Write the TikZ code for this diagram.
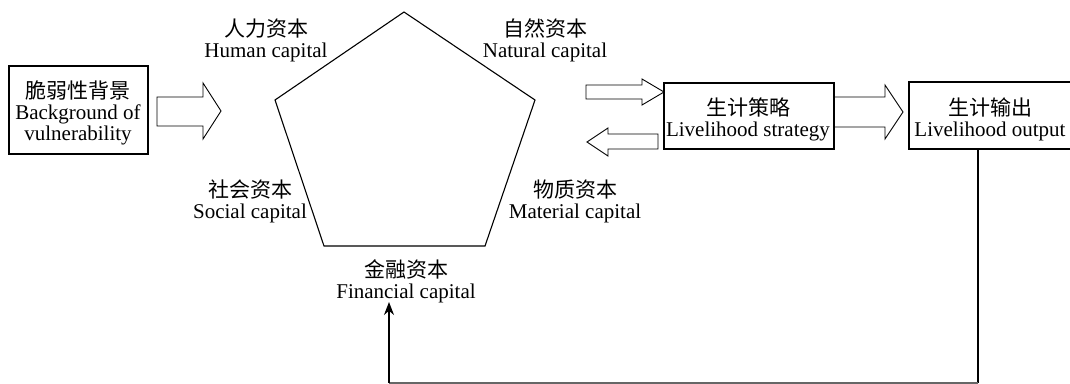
\documentclass[tikz,border=0pt]{standalone}
\usepackage{fontspec}
\setmainfont{Liberation Serif}
\newfontfamily\cjk{Noto Sans CJK SC}
\usetikzlibrary{arrows.meta}
\setlength{\lineskiplimit}{-30pt}
\setlength{\lineskip}{0pt}
\begin{document}
\begin{tikzpicture}[x=1pt,y=-1pt,
  lbl/.style={inner sep=0pt, align=center, font=\fontsize{21}{21}\selectfont},
  boxline/.style={draw, line width=1.1pt},
  blockarrow/.style={draw, line width=0.9pt, line join=miter},
  conn/.style={draw, line width=1.3pt}]
\useasboundingbox (0,0) rectangle (1070,383);
\clip (0,0) rectangle (1070,383);
% pentagon
\coordinate (pT) at (404,12);
\coordinate (pL) at (275,100);
\coordinate (pR) at (535,100);
\coordinate (pBL) at (324,246);
\coordinate (pBR) at (485,246);
\draw[line width=1.1pt, line join=miter] (pT) -- (pR) -- (pBR) -- (pBL) -- (pL) -- cycle;
% labels
\node[lbl] (human) at (266,40) {{\cjk 人力资本}\\Human capital};
\node[lbl] (natural) at (545,40) {{\cjk 自然资本}\\Natural capital};
\node[lbl] (social) at (250,201) {{\cjk 社会资本}\\Social capital};
\node[lbl] (material) at (575,201) {{\cjk 物质资本}\\Material capital};
\node[lbl] (financial) at (406,281) {{\cjk 金融资本}\\Financial capital};
% boxes
\draw[boxline] (9,66) rectangle (148,154);
\node[lbl] (vuln) at (78,113) {{\cjk 脆弱性背景}\\Background of\\vulnerability};
\draw[boxline] (664,83) rectangle (834,149);
\node[lbl] (strat) at (748,119) {{\cjk 生计策略}\\Livelihood strategy};
\draw[boxline] (909,82) rectangle (1080,149);
\node[lbl] (output) at (990,119) {{\cjk 生计输出}\\Livelihood output};
% block arrows
\draw[blockarrow] (157,97) -- (203,97) -- (203,83) -- (221,111) -- (203,139) -- (203,126) -- (157,126) -- cycle;
\draw[blockarrow] (586,85) -- (642,85) -- (642,79) -- (664,92) -- (642,105) -- (642,99) -- (586,99) -- cycle;
\draw[blockarrow] (658,134) -- (608,134) -- (608,128) -- (587,142) -- (608,156) -- (608,149) -- (658,149) -- cycle;
\draw[blockarrow] (834,97) -- (885,97) -- (885,85) -- (903,112) -- (885,139) -- (885,127) -- (834,127) -- cycle;
% feedback connector
\coordinate (fb1) at (978,383);
\coordinate (fb2) at (389,383);
\coordinate (fbtip) at (389,302);
\draw[line width=1.1pt] (978,149) -- (fb1);
\draw[line width=1.6pt, black!60] (fb1) -- (fb2);
\draw[conn, -{Stealth[length=13pt,width=10pt]}] (fb2) -- (fbtip);
\end{tikzpicture}
\end{document}
